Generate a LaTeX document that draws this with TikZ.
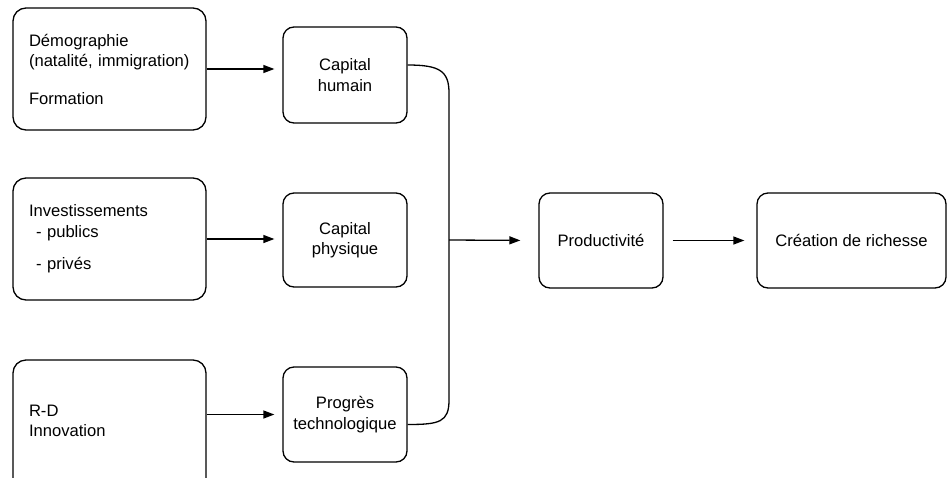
\documentclass[tikz,border=0pt]{standalone}
\usepackage{fontspec}
\setmainfont{Liberation Sans}
\usetikzlibrary{arrows.meta, positioning, calc}

\begin{document}
\begin{tikzpicture}[
  x=1pt, y=-1pt,
  srcbox/.style={rectangle, draw=black, line width=1.3pt, rounded corners=13pt, text width=161pt, inner xsep=16pt, align=left, font=\fontsize{16.6}{20.5}\selectfont},
  capbox/.style={rectangle, draw=black, line width=1.3pt, rounded corners=11pt, minimum width=124pt, minimum height=95pt, align=center, font=\fontsize{16.6}{20.5}\selectfont},
  arr/.style={-{Triangle[length=11pt, width=8pt]}, line width=1.3pt},
  link/.style={line width=1.3pt},
]
\useasboundingbox (0,0) rectangle (947,477);
\clip (0,0) rectangle (947,477);

%% Sources
\node[srcbox, minimum height=122pt] (dem) at (109.5,69)  {Démographie\\\mbox{(natalité, immigration)}\\[17pt]Formation};
\node[srcbox, minimum height=122pt] (inv) at (109.5,239) {Investissements\\\hspace*{7pt}- publics\\[12pt]\hspace*{7pt}- privés};
\node[srcbox, minimum height=136pt] (rd)  at (109.5,428) {R-D\\Innovation\\[-6pt]\mbox{}};

%% Capitals
\node[capbox, minimum height=96pt] (ch) at (345,75)    {Capital\\humain};
\node[capbox, minimum height=94pt] (cp) at (345,240)   {Capital\\physique};
\node[capbox]                      (pt) at (345,414.5) {Progrès\\technologique};

%% Outcomes
\node[capbox]                       (prod) at (601,240.5)   {Productivité};
\node[capbox, minimum width=189pt]  (crea) at (851.5,240.5) {Création de richesse};

%% Brace
\coordinate (bt) at (449,93);
\coordinate (bb) at (449,400);
\coordinate (jn) at (449,240);
\draw[link] ([yshift=10pt]ch.east) .. controls +(32,0) and +(0,-22) .. (bt) -- (bb) .. controls +(0,22) and +(32,0) .. ([yshift=-10pt]pt.east);

%% Arrows
\draw[arr, shorten >=8pt] (dem.east) -- (dem.east -| ch.west);
\draw[arr, shorten >=8pt] (inv.east) -- (inv.east -| cp.west);
\draw[arr, shorten >=8pt] (pt.west -| rd.east) -- (pt.west);
\draw[arr, shorten >=18pt] (jn) -- (prod.west);
\draw[arr, shorten <=9pt, shorten >=12pt] (prod) -- (crea);
\end{tikzpicture}
\end{document}
